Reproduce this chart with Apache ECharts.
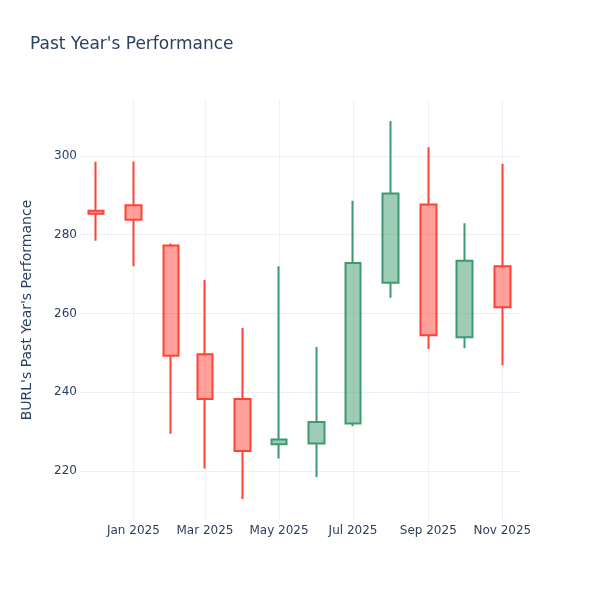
<!DOCTYPE html>
<html>
<head>
<meta charset="utf-8">
<script src="https://cdn.jsdelivr.net/npm/echarts@6/dist/echarts.min.js"></script>
<style>html,body{margin:0;padding:0;background:#fff}#chart{width:600px;height:600px}</style>
</head>
<body>
<div id="chart"></div>
<script>
var dates = ['2024-12-01','2025-01-01','2025-02-01','2025-03-01','2025-04-01','2025-05-01','2025-06-01','2025-07-01','2025-08-01','2025-09-01','2025-10-01','2025-11-01'];
var openVals  = [286.1, 287.5, 277.3, 249.7, 238.3, 226.8, 227.0, 232.1, 267.8, 287.7, 254.0, 272.0];
var closeVals = [285.3, 283.8, 249.3, 238.3, 225.1, 228.0, 232.5, 272.8, 290.5, 254.5, 273.4, 261.6];
var lowVals   = [278.5, 272.0, 229.5, 220.7, 212.9, 223.2, 218.5, 231.4, 264.0, 251.0, 251.2, 246.9];
var highVals  = [298.5, 298.6, 277.8, 268.5, 256.3, 272.0, 251.5, 288.6, 308.9, 302.2, 282.9, 298.0];
var xTickDates = ['2025-01-01','2025-03-01','2025-05-01','2025-07-01','2025-09-01','2025-11-01'];
var yTicks = [220, 240, 260, 280, 300];
var monthNames = ['Jan','Feb','Mar','Apr','May','Jun','Jul','Aug','Sep','Oct','Nov','Dec'];

function ts(s){ return Date.UTC(+s.slice(0,4), +s.slice(5,7) - 1, +s.slice(8,10)); }

var seriesData = dates.map(function(d, i){
  return [ts(d), openVals[i], closeVals[i], lowVals[i], highVals[i]];
});

var font = 'DejaVu Sans, sans-serif';
var chart = echarts.init(document.getElementById('chart'));
chart.setOption({
  backgroundColor: '#fff',
  animation: false,
  title: {
    text: "Past Year's Performance",
    left: 25, top: 31,
    textStyle: {fontFamily: font, fontSize: 17, fontWeight: 'normal', color: '#2a3f5f'}
  },
  grid: {left: 80, right: 80, top: 100, bottom: 80, containLabel: false},
  xAxis: {
    type: 'value',
    scale: true,
    min: ts('2024-11-18'),
    max: ts('2025-11-15') + 14 * 3600 * 1000,
    axisLine: {show: false},
    axisTick: {show: false, customValues: xTickDates.map(ts)},
    splitLine: {show: true, lineStyle: {color: '#EBF0F8', width: 1}},
    axisLabel: {
      customValues: xTickDates.map(ts),
      margin: 5,
      fontFamily: font, fontSize: 12, color: '#2a3f5f',
      formatter: function(v){ var d = new Date(v); return monthNames[d.getUTCMonth()] + ' ' + d.getUTCFullYear(); }
    }
  },
  yAxis: {
    type: 'value',
    min: 207.6, max: 314.2,
    name: "BURL's Past Year's Performance",
    nameLocation: 'middle', nameRotate: 90, nameGap: 46,
    nameTextStyle: {fontFamily: font, fontSize: 14, color: '#2a3f5f'},
    axisLine: {show: false},
    axisTick: {show: false, customValues: yTicks},
    splitLine: {show: true, lineStyle: {color: '#EBF0F8', width: 1}},
    axisLabel: {customValues: yTicks, margin: 3, fontFamily: font, fontSize: 12, color: '#2a3f5f'}
  },
  series: [{
    type: 'candlestick',
    data: seriesData,
    encode: {x: 0, y: [1, 2, 3, 4]},
    barWidth: 16,
    itemStyle: {
      color: 'rgba(61,153,112,0.5)',
      color0: 'rgba(255,65,54,0.5)',
      borderColor: '#3D9970',
      borderColor0: '#FF4136',
      borderWidth: 2
    }
  }]
});
</script>
</body>
</html>
